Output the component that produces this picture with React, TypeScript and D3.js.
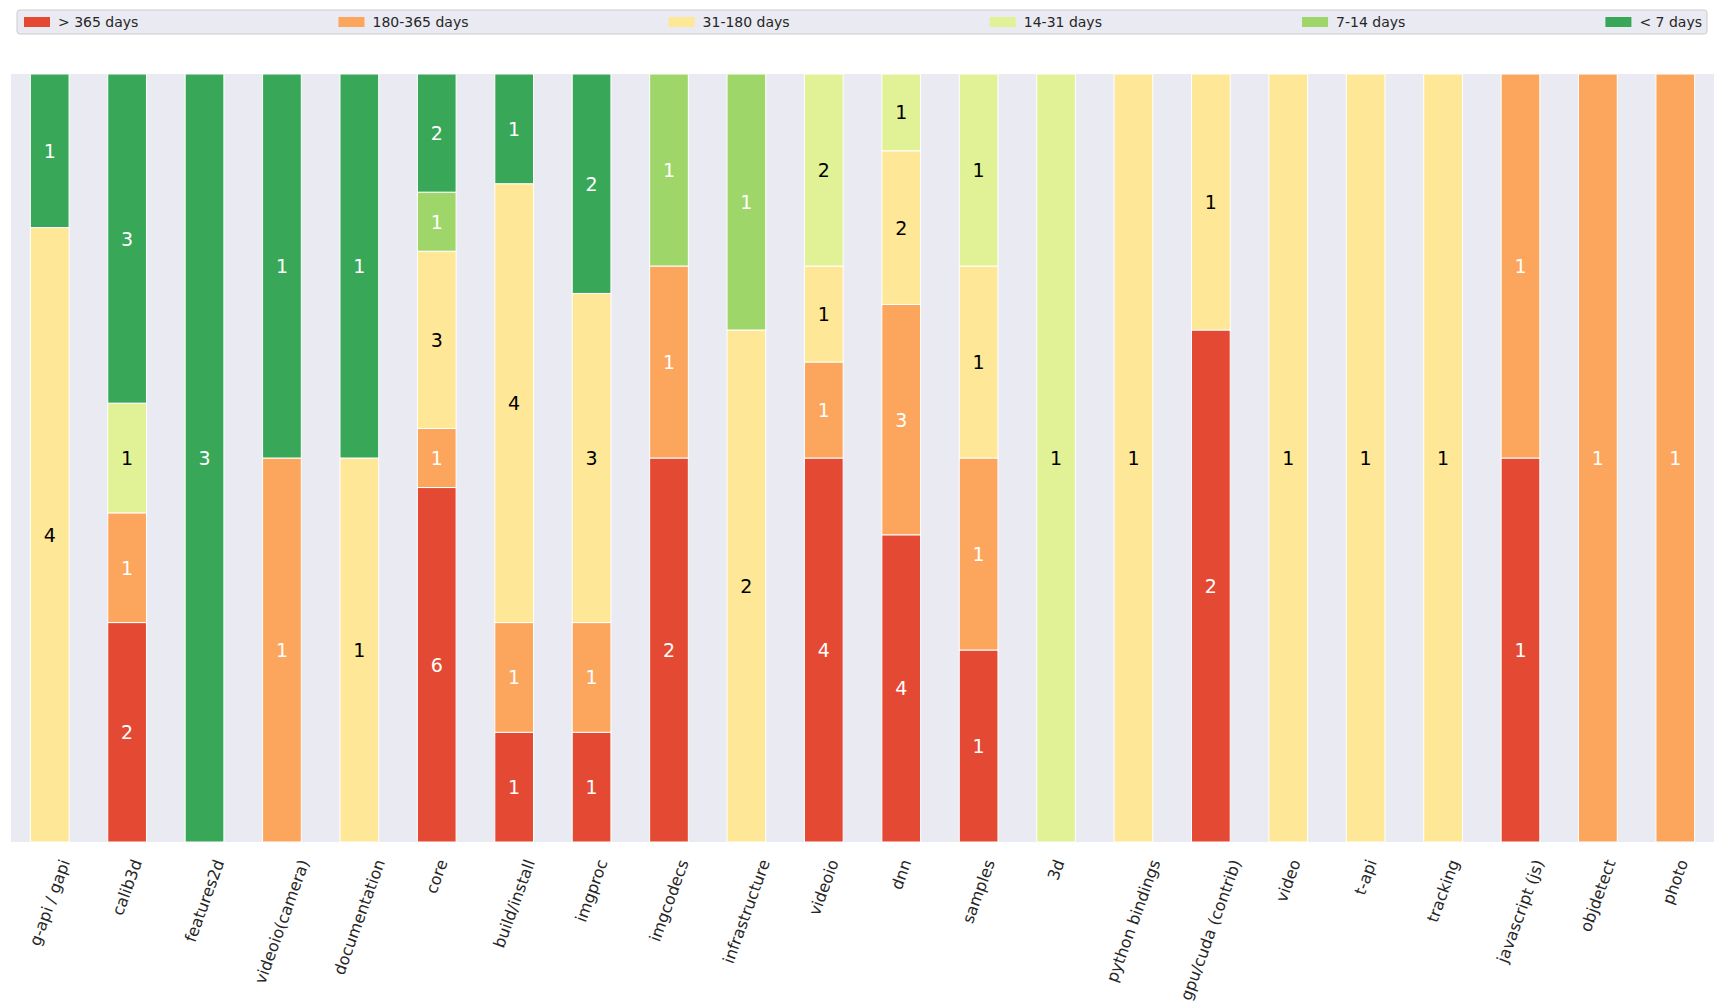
import React from "react";
import * as d3 from "d3";

const categories = ["g-api / gapi","calib3d","features2d","videoio(camera)","documentation","core","build/install","imgproc","imgcodecs","infrastructure","videoio","dnn","samples","3d","python bindings","gpu/cuda (contrib)","video","t-api","tracking","javascript (js)","objdetect","photo"];
const seriesNames = ["> 365 days","180-365 days","31-180 days","14-31 days","7-14 days","< 7 days"];
const seriesColors = ["#e44a33","#fca55d","#fee797","#e0f295","#9fd669","#39a758"];
const labelColors = ["#ffffff","#ffffff","#000000","#000000","#ffffff","#ffffff"];
const over365 = [0,2,0,0,0,6,1,1,2,0,4,4,1,0,0,2,0,0,0,1,0,0];
const d180to365 = [0,1,0,1,0,1,1,1,1,0,1,3,1,0,0,0,0,0,0,1,1,1];
const d31to180 = [4,0,0,0,1,3,4,3,0,2,1,2,1,0,1,1,1,1,1,0,0,0];
const d14to31 = [0,1,0,0,0,0,0,0,0,0,2,1,1,1,0,0,0,0,0,0,0,0];
const d7to14 = [0,0,0,0,0,1,0,0,1,1,0,0,0,0,0,0,0,0,0,0,0,0];
const under7 = [1,3,3,1,1,2,1,2,0,0,0,0,0,0,0,0,0,0,0,0,0,0];
const seriesValues = [over365, d180to365, d31to180, d14to31, d7to14, under7];

const W = 1725, H = 1005;
const plot = { left: 11, right: 1714, top: 74, bottom: 842 };
const FONT = "DejaVu Sans, sans-serif";
const TEXT = "#262626";

function measure(text: string, size: number) {
  const c = document.createElement("canvas").getContext("2d")!;
  c.font = `${size}px DejaVu Sans`;
  return c.measureText(text).width;
}

export default function App() {
  const rows = categories.map((c, i) => {
    const r: any = { cat: c };
    seriesNames.forEach((s, j) => (r[s] = seriesValues[j][i]));
    return r;
  });
  const stack = d3.stack<any>().keys(seriesNames).offset(d3.stackOffsetExpand);
  const layers = stack(rows);
  const x = d3.scaleBand().domain(categories).range([plot.left, plot.right]).paddingInner(0.5).paddingOuter(0.25);
  const y = d3.scaleLinear().domain([0, 1]).range([plot.bottom, plot.top]);

  // legend layout
  const legFont = 14;
  const patchW = 26, patchH = 10, textGap = 8;
  const legLeft = 17, legRight = 1707, legTop = 10, legBottom = 34;
  const innerL = 24, innerR = 1702;
  const widths = seriesNames.map((s) => patchW + textGap + measure(s, legFont));
  const gap = (innerR - innerL - d3.sum(widths)) / (seriesNames.length - 1);
  let acc = innerL;
  const legX = widths.map((w) => { const v = acc; acc += w + gap; return v; });
  const legMid = (legTop + legBottom) / 2;

  const tickFont = 16;
  const ang = 70 * Math.PI / 180;
  const tickTop = 857;

  return (
    <svg width={W} height={H} style={{ position: "absolute", left: 0, top: 0, background: "#fff" }} fontFamily={FONT}>
      <rect x={plot.left} y={plot.top} width={plot.right - plot.left} height={plot.bottom - plot.top} fill="#eaeaf2" />
      {layers.map((layer, j) => (
        <g key={layer.key}>
          {layer.map((d, i) => {
            const v = seriesValues[j][i];
            if (!v) return null;
            const y0 = y(d[0]), y1 = y(d[1]);
            const xx = x(categories[i])!;
            return (
              <g key={i}>
                <rect x={xx} y={y1} width={x.bandwidth()} height={y0 - y1} fill={seriesColors[j]} stroke="#ffffff" strokeWidth={1} />
                <text x={xx + x.bandwidth() / 2} y={(y0 + y1) / 2} textAnchor="middle" dominantBaseline="central" fontSize={19} fill={labelColors[j]}>{v}</text>
              </g>
            );
          })}
        </g>
      ))}
      {categories.map((c) => {
        const L = measure(c, tickFont);
        const h = tickFont * 1.17;
        const halfV = (L * Math.sin(ang) + h * Math.cos(ang)) / 2;
        const cx = x(c)! + x.bandwidth() / 2;
        return (
          <text key={c} transform={`translate(${cx},${tickTop + halfV}) rotate(-70)`} textAnchor="middle" dominantBaseline="central" fontSize={tickFont} fill={TEXT}>{c}</text>
        );
      })}
      <rect x={legLeft} y={legTop} width={legRight - legLeft} height={legBottom - legTop} rx={3} fill="#eaeaf2" stroke="#cccccc" strokeWidth={1} />
      {seriesNames.map((s, j) => (
        <g key={s}>
          <rect x={legX[j]} y={legMid - patchH / 2} width={patchW} height={patchH} fill={seriesColors[j]} />
          <text x={legX[j] + patchW + textGap} y={legMid} dominantBaseline="central" fontSize={legFont} fill={TEXT}>{s}</text>
        </g>
      ))}
    </svg>
  );
}
